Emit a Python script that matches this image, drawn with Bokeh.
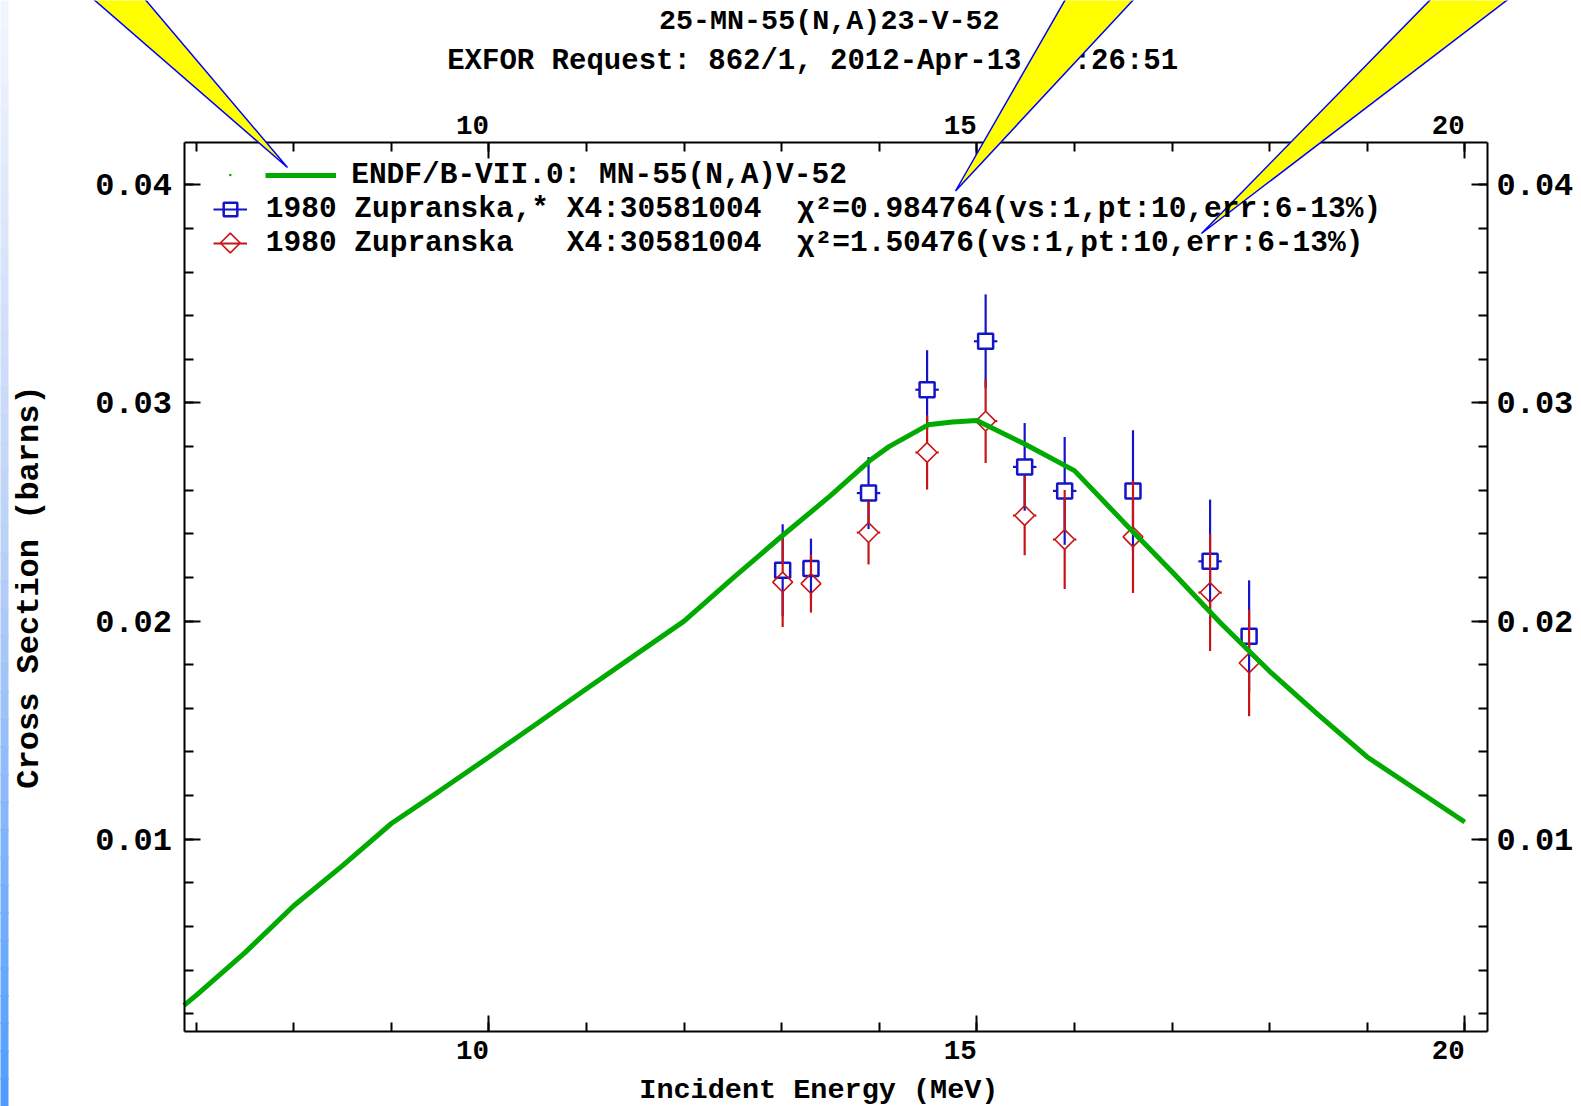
import numpy as np
from bokeh.plotting import figure
from bokeh.models import (LinearAxis, SingleIntervalTicker, Legend, LegendItem, Label,
                          PolyAnnotation, BoxAnnotation)
from bokeh.embed import file_html
from bokeh.resources import INLINE

# ---------------- data ----------------
endf_energy = [6.875, 7.0, 7.5, 8.0, 8.5, 9.0, 9.5, 10.0, 10.5, 11.0, 11.5, 12.0,
               12.5, 13.0, 13.5, 13.9, 14.1, 14.5, 14.75, 15.0, 15.5, 16.0, 16.5,
               17.0, 17.5, 18.0, 18.5, 19.0, 19.5, 20.0]
endf_xs = [0.00238, 0.00284, 0.0048, 0.00695, 0.00879, 0.01072, 0.01223, 0.01377,
           0.01533, 0.0169, 0.01845, 0.0200, 0.02197, 0.02389, 0.02575, 0.02735,
           0.0280, 0.0290, 0.02913, 0.0292, 0.0281, 0.0269, 0.02456, 0.02226,
           0.0199, 0.0177, 0.0157, 0.01377, 0.01228, 0.01079]

exp_energy = [13.01, 13.30, 13.89, 14.49, 15.09, 15.49, 15.90, 16.60, 17.39, 17.79]
exp_denergy = [0.06, 0.06, 0.12, 0.12, 0.12, 0.12, 0.12, 0.06, 0.12, 0.06]

zup_star_xs = [0.02233, 0.02241, 0.02587, 0.03061, 0.03283, 0.02707, 0.02597,
               0.02597, 0.02274, 0.01930]
zup_star_err = [0.00211, 0.00137, 0.00165, 0.00181, 0.00215, 0.00201, 0.00247,
                0.00278, 0.00283, 0.00257]
zup_xs = [0.02179, 0.02172, 0.02406, 0.02773, 0.02917, 0.02484, 0.02374,
          0.02386, 0.02131, 0.01808]
zup_err = [0.00206, 0.00133, 0.00146, 0.00170, 0.00192, 0.00182, 0.00227,
           0.00257, 0.00268, 0.00244]

x_tick_values = [10, 15, 20]
x_tick_labels = ["10", "15", "20"]

title_line1 = "25-MN-55(N,A)23-V-52"
title_line2 = "EXFOR Request: 862/1, 2012-Apr-13 08:26:51"
x_label = "Incident Energy (MeV)"
y_label = "Cross Section (barns)"
label_endf = "ENDF/B-VII.0: MN-55(N,A)V-52"
label_star = "1980 Zupranska,* X4:30581004  \u03c7\u00b2=0.984764(vs:1,pt:10,err:6-13%)"
label_plain = "1980 Zupranska   X4:30581004  \u03c7\u00b2=1.50476(vs:1,pt:10,err:6-13%)"

# ---------------- layout / style ----------------
W, H = 1581, 1106
FL, FR, FT, FB = 183.5, 1487.0, 142.0, 1030.5      # inner plot box in page pixels
X0, X1 = 6.875, 20.233
Y0, Y1 = 0.001206, 0.041944
FONT = "Liberation Mono"
GREEN = "#00aa00"
BLUE = "#1414c8"
RED = "#c81414"


def px2x(px):
    return X0 + (px - FL) * (X1 - X0) / (FR - FL)


def px2y(py):
    return Y0 + (FB - py) * (Y1 - Y0) / (FB - FT)


def nb(s):
    return s.replace(" ", "\u00a0")


# the frame covers the whole page; the axes are pinned to the inner box
p = figure(width=W, height=H, x_range=(px2x(0), px2x(W)), y_range=(px2y(H), px2y(0)),
           output_backend="svg", toolbar_location=None,
           x_axis_location=None, y_axis_location=None,
           min_border_left=0, min_border_right=0, min_border_top=0, min_border_bottom=0,
           background_fill_color="white", border_fill_color="white")
p.grid.visible = False
p.outline_line_color = None


def style_axis(ax, size, standoff):
    ax.axis_line_width = 2
    ax.axis_line_color = "black"
    ax.major_tick_in = 16
    ax.major_tick_out = 0
    ax.minor_tick_in = 9
    ax.minor_tick_out = 0
    ax.major_tick_line_width = 2
    ax.minor_tick_line_width = 2
    ax.major_label_text_font = FONT
    ax.major_label_text_font_style = "bold"
    ax.major_label_text_font_size = size
    ax.major_label_text_color = "black"
    ax.major_label_standoff = standoff
    ax.axis_label_text_font = FONT
    ax.axis_label_text_font_style = "bold"
    ax.axis_label_text_color = "black"


x_over = {v: lab + "\u00a0\u00a0" for v, lab in zip(x_tick_values, x_tick_labels)}

bottom = LinearAxis(ticker=SingleIntervalTicker(interval=5, num_minor_ticks=5),
                    axis_label=x_label + "\u00a0\u00a0",
                    fixed_location=Y0, bounds=(X0, X1))
style_axis(bottom, "27.5px", 5)
bottom.major_label_overrides = x_over
bottom.axis_label_text_font_size = "28.5px"
bottom.axis_label_standoff = 3
p.add_layout(bottom, "below")

top = LinearAxis(ticker=SingleIntervalTicker(interval=5, num_minor_ticks=5),
                 fixed_location=Y1, bounds=(X0, X1))
style_axis(top, "27.5px", 1)
top.major_label_overrides = x_over
p.add_layout(top, "above")

left = LinearAxis(ticker=SingleIntervalTicker(interval=0.01, num_minor_ticks=5),
                  axis_label=y_label, fixed_location=X0, bounds=(Y0, Y1))
style_axis(left, "32px", 12)
left.axis_label_text_font_size = "32px"
left.axis_label_standoff = 45
p.add_layout(left, "left")

right = LinearAxis(ticker=SingleIntervalTicker(interval=0.01, num_minor_ticks=5),
                   fixed_location=X1, bounds=(Y0, Y1))
style_axis(right, "32px", 9)
p.add_layout(right, "right")

# titles (left edges / baselines in page pixels)
p.add_layout(Label(x=px2x(658.4), y=px2y(20.5), text=title_line1, text_font=FONT,
                   text_font_size="28.4px", text_font_style="bold", text_color="black",
                   text_align="left", text_baseline="alphabetic"))
p.add_layout(Label(x=px2x(446.7), y=px2y(61.0), text=title_line2, text_font=FONT,
                   text_font_size="29px", text_font_style="bold", text_color="black",
                   text_align="left", text_baseline="alphabetic"))

# ---------------- data marks ----------------
dpx = (X1 - X0) / (FR - FL)
dpy = (Y1 - Y0) / (FB - FT)

E = np.array(exp_energy)
dE = np.array(exp_denergy)


def errorbars(ys, errs, half_px, color, width):
    ys = np.array(ys)
    errs = np.array(errs)
    gap = half_px * dpy
    p.segment(x0=E, y0=ys + gap, x1=E, y1=ys + errs, line_color=color, line_width=width)
    p.segment(x0=E, y0=ys - gap, x1=E, y1=ys - errs, line_color=color, line_width=width)
    xgap = half_px * dpx
    m = dE > xgap
    r = p.segment(x0=np.concatenate([E[m] - dE[m], E[m] + xgap]),
                  y0=np.concatenate([ys[m], ys[m]]),
                  x1=np.concatenate([E[m] - xgap, E[m] + dE[m]]),
                  y1=np.concatenate([ys[m], ys[m]]),
                  line_color=color, line_width=width)
    return r


xb_star = errorbars(zup_star_xs, zup_star_err, 7.5, BLUE, 2.2)
sc_star = p.scatter(x=E, y=zup_star_xs, marker="square", size=15, fill_color=None,
                    line_color=BLUE, line_width=2.5)
xb_plain = errorbars(zup_xs, zup_err, 10, RED, 2.2)
sc_plain = p.scatter(x=E, y=zup_xs, marker="square", angle=np.pi / 4, size=14,
                     fill_color=None, line_color=RED, line_width=1.6)

r_endf = p.line(x=endf_energy, y=endf_xs, line_color=GREEN, line_width=5)

# ---------------- legends ----------------
ROW_A, ROW_B1, ROW_B2 = 174.5, 208.5, 242.5      # row centres (page px)
LEG_A_X, LEG_B_X = 265.2, 212.8                  # glyph-box left edges (page px)
ROW_H = 34
common = dict(padding=0, margin=0, spacing=0, background_fill_alpha=0,
              border_line_alpha=0, label_text_font=FONT, label_text_font_style="bold",
              label_text_font_size="29.5px", label_text_color="black",
              glyph_height=ROW_H, label_height=ROW_H)
legA = Legend(items=[LegendItem(label=nb(label_endf), renderers=[r_endf])],
              location=(LEG_A_X, H - (ROW_A + ROW_H / 2)), glyph_width=71,
              label_standoff=15, **common)
legB = Legend(items=[LegendItem(label=nb(label_star), renderers=[xb_star, sc_star]),
                     LegendItem(label=nb(label_plain), renderers=[xb_plain])],
              location=(LEG_B_X, H - (ROW_B2 + ROW_H / 2)), glyph_width=34,
              label_standoff=19, **common)
p.add_layout(legA)
p.add_layout(legB)
# legend sample symbols that the legend box cannot draw itself (rotated square, dot)
p.scatter(x=[px2x(LEG_B_X + 17)], y=[px2y(ROW_B2)], marker="square", angle=np.pi / 4,
          size=14, fill_color=None, line_color=RED, line_width=1.6)
p.scatter(x=[px2x(LEG_B_X + 17)], y=[px2y(ROW_A)], marker="circle", size=2.5,
          fill_color=GREEN, line_color=None)

# ---------------- decorations: left gradient strip and yellow call-outs -------------
n_bands = 40
c_top = np.array([243, 246, 254])
c_mid = np.array([186, 208, 246])
c_bot = np.array([78, 156, 255])
for i in range(n_bands):
    t = (i + 0.5) / n_bands
    c = c_top + (c_mid - c_top) * (t / 0.5) if t < 0.5 else c_mid + (c_bot - c_mid) * ((t - 0.5) / 0.5)
    col = "#%02x%02x%02x" % tuple(int(round(v)) for v in c)
    p.add_layout(BoxAnnotation(left=px2x(-2), right=px2x(8),
                               top=px2y(i * H / n_bands - 1),
                               bottom=px2y((i + 1) * H / n_bands + 1),
                               fill_color=col, fill_alpha=1, line_alpha=0))

callouts = [
    [(91, -3), (143, -3), (287, 167)],
    [(1066, -3), (1135, -3), (955, 190.5)],
    [(1432, -3), (1510, -3), (1201, 233)],
]
for pts in callouts:
    p.add_layout(PolyAnnotation(xs=[px2x(a) for a, b in pts], ys=[px2y(b) for a, b in pts],
                                fill_color="#ffff00", fill_alpha=1,
                                line_color="#0000ff", line_width=1.5, line_alpha=1,
                                level="overlay"))

open("out.html", "w").write(file_html(p, INLINE))
